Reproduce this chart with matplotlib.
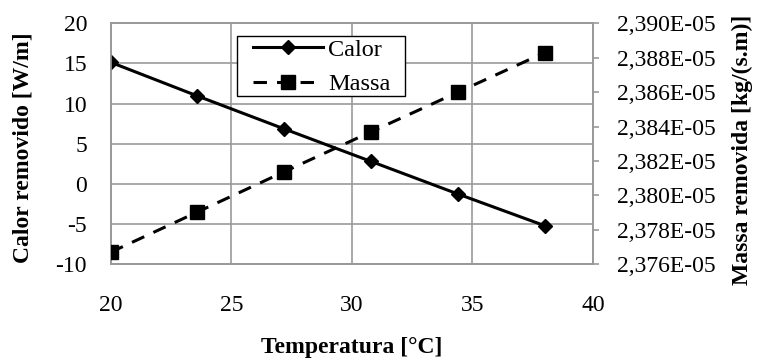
import matplotlib
matplotlib.use("Agg")
import matplotlib.pyplot as plt
from matplotlib.patches import Rectangle

temperatura = [20, 23.6, 27.2, 30.8, 34.4, 38]
calor = [15.15, 10.95, 6.85, 2.8, -1.25, -5.2]
massa = [2.37670e-05, 2.37904e-05, 2.38138e-05, 2.38370e-05, 2.38600e-05, 2.38830e-05]

x_ticks = [20, 25, 30, 35, 40]
calor_ticks = [-10, -5, 0, 5, 10, 15, 20]
massa_ticks = [2.376e-05, 2.378e-05, 2.380e-05, 2.382e-05, 2.384e-05, 2.386e-05, 2.388e-05, 2.390e-05]
massa_labels = ["2,376E-05", "2,378E-05", "2,380E-05", "2,382E-05",
                "2,384E-05", "2,386E-05", "2,388E-05", "2,390E-05"]

plt.rcParams['font.family'] = ['Liberation Serif', 'DejaVu Serif']
plt.rcParams['font.size'] = 17
plt.rcParams['axes.unicode_minus'] = False

grey = '#999999'

fig = plt.figure(figsize=(7.57, 3.62), dpi=100)
ax = fig.add_axes([0.1462, 0.2699, 0.6372, 0.6657])
ax2 = ax.twinx()

l1, = ax.plot(temperatura, calor, '-', color='black', lw=2.2,
              marker='D', markersize=7.5, label='Calor', zorder=3)
l2, = ax2.plot(temperatura, massa, color='black', lw=2.2, linestyle=(0, (4.4, 3.3)),
               marker='s', markersize=10, label='Massa', zorder=3)

ax.set_xlim(20, 40)
ax.set_ylim(-10, 20)
ax.set_xticks(x_ticks)
ax.set_yticks(calor_ticks)
ax2.set_ylim(massa_ticks[0], massa_ticks[-1])
ax2.set_yticks(massa_ticks)
ax2.set_yticklabels(massa_labels)

ax.grid(True, color=grey, lw=1.2)
ax.set_axisbelow(True)
for a in (ax, ax2):
    for s in a.spines.values():
        s.set_color(grey)
        s.set_linewidth(1.2)

ax.tick_params(axis='y', length=0, pad=17)
ax.tick_params(axis='x', length=0, pad=22)
ax2.tick_params(axis='y', length=4, color=grey, width=1.2, pad=13)

fig.text(352 / 757, 1 - 347 / 362, 'Temperatura [°C]', fontweight='bold',
         ha='center', va='center')
fig.text(23 / 757, 1 - 147.5 / 362, 'Calor removido [W/m]', fontweight='bold',
         rotation=90, ha='center', va='center')
fig.text(742 / 757, 1 - 150 / 362, 'Massa removida [kg/(s.m)]', fontweight='bold',
         rotation=90, ha='center', va='center')

# legend box drawn by hand (wider padding than the legend allows)
box = Rectangle((0.261, 0.698), 0.349, 0.2505, transform=ax2.transAxes,
                facecolor='white', edgecolor='black', lw=1.0, zorder=4)
ax2.add_patch(box)
leg = ax2.legend(handles=[l1, l2], loc='upper left', bbox_to_anchor=(0.295, 0.935),
                 frameon=False, fontsize=17.5, handlelength=2.9, borderpad=0,
                 labelspacing=0.5, handletextpad=0.2, borderaxespad=0)
leg.set_zorder(5)

fig.savefig('out.png', dpi=100)
